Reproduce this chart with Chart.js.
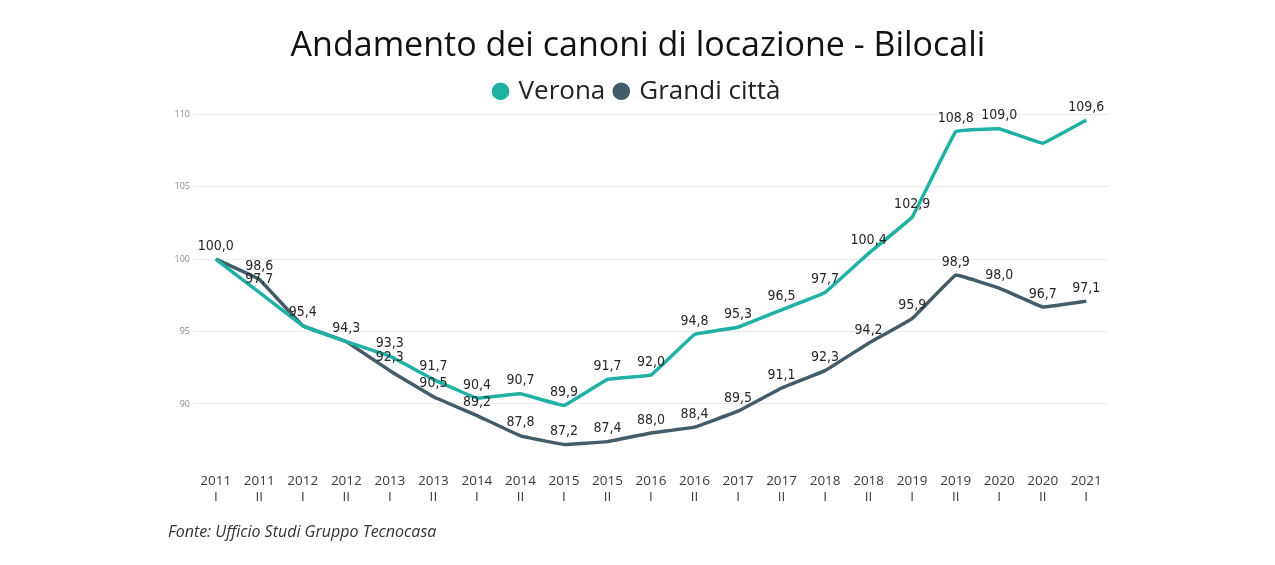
<!DOCTYPE html>
<html>
<head>
<meta charset="utf-8">
<script src="https://cdn.jsdelivr.net/npm/chart.js@4"></script>
<style>
  html, body { margin: 0; padding: 0; background: #fff; }
  #wrap { width: 1275px; height: 565px; }
</style>
</head>
<body>
<div id="wrap"><canvas id="chart"></canvas></div>
<script>
// categories: year + semester
const years = ['2011', '2011', '2012', '2012', '2013', '2013', '2014', '2014', '2015', '2015', '2016',
    '2016', '2017', '2017', '2018', '2018', '2019', '2019', '2020', '2020', '2021'];
const halves = ['I', 'II', 'I', 'II', 'I', 'II', 'I', 'II', 'I', 'II', 'I',
    'II', 'I', 'II', 'I', 'II', 'I', 'II', 'I', 'II', 'I'];

const verona = [100.0, 97.7, 95.4, 94.3, 93.3, 91.7, 90.4, 90.7, 89.9, 91.7, 92.0,
    94.8, 95.3, 96.5, 97.7, 100.4, 102.9, 108.8, 109.0, 108.0, 109.6];
const grandiCitta = [100.0, 98.6, 95.4, 94.3, 92.3, 90.5, 89.2, 87.8, 87.2, 87.4, 88.0,
    88.4, 89.5, 91.1, 92.3, 94.2, 95.9, 98.9, 98.0, 96.7, 97.1];

// labels not shown in the original (overlap / hidden)
const veronaHiddenLabels = [2, 3, 19];
const grandiHiddenLabels = [0];

const yTicks = [90, 95, 100, 105, 110];

const labels = years.map((y, i) => [y, halves[i]]);

// draws the value above each point, Italian decimal comma
const valueLabels = {
    id: 'valueLabels',
    afterDatasetsDraw(chart) {
        const ctx = chart.ctx;
        ctx.save();
        ctx.font = '14px "DejaVu Sans Condensed", "DejaVu Sans", sans-serif';
        ctx.fillStyle = '#262626';
        ctx.textAlign = 'center';
        ctx.textBaseline = 'middle';
        chart.data.datasets.forEach((ds, di) => {
            const meta = chart.getDatasetMeta(di);
            meta.data.forEach((pt, i) => {
                if (ds.hiddenLabels.includes(i)) return;
                const txt = ds.data[i].toFixed(1).replace('.', ',');
                ctx.fillText(txt, pt.x, pt.y - 13);
            });
        });
        ctx.restore();
    }
};

new Chart(document.getElementById('chart'), {
    type: 'line',
    data: {
        labels: labels,
        datasets: [{
            label: 'Verona',
            data: verona,
            hiddenLabels: veronaHiddenLabels,
            borderColor: '#1fb1a4',
            backgroundColor: '#1fb1a4',
            borderWidth: 3.5,
            pointRadius: 0,
            tension: 0.05
        }, {
            label: 'Grandi città',
            data: grandiCitta,
            hiddenLabels: grandiHiddenLabels,
            borderColor: '#435c67',
            backgroundColor: '#435c67',
            borderWidth: 3.5,
            pointRadius: 0,
            tension: 0.05
        }]
    },
    options: {
        responsive: true,
        maintainAspectRatio: false,
        animation: false,
        layout: {
            padding: { left: 168, right: 167, top: 0, bottom: 14.5 }
        },
        scales: {
            x: {
                offset: true,
                grid: { display: false },
                border: { display: false },
                ticks: {
                    autoSkip: false,
                    maxRotation: 0,
                    padding: 3,
                    color: '#3a3a3a',
                    font: { family: '"Open Sans", sans-serif', size: 13.5 }
                }
            },
            y: {
                min: 86,
                max: 110,
                afterFit(scale) { scale.width = 26; },
                afterBuildTicks(scale) { scale.ticks = yTicks.map(v => ({ value: v })); },
                grid: { color: '#ececec', drawTicks: false },
                border: { display: false },
                ticks: {
                    padding: 4,
                    color: '#8a8a8a',
                    font: { family: '"Open Sans", sans-serif', size: 9 }
                }
            }
        },
        plugins: {
            title: {
                display: true,
                text: 'Andamento dei canoni di locazione - Bilocali',
                color: '#111',
                font: { family: '"Open Sans", sans-serif', size: 34, weight: 'normal' },
                padding: { top: 25.5, bottom: 1 }
            },
            subtitle: {
                display: true,
                position: 'bottom',
                align: 'start',
                text: 'Fonte: Ufficio Studi Gruppo Tecnocasa',
                color: '#333',
                font: { family: '"Open Sans", sans-serif', size: 16, style: 'italic' },
                padding: { top: 15, bottom: 8 }
            },
            legend: {
                display: true,
                labels: {
                    usePointStyle: true,
                    pointStyle: 'circle',
                    boxWidth: 10,
                    boxHeight: 10,
                    color: '#222',
                    padding: 11,
                    font: { family: '"Open Sans", sans-serif', size: 26 }
                }
            },
            tooltip: { enabled: false }
        }
    },
    plugins: [valueLabels]
});
</script>
</body>
</html>
